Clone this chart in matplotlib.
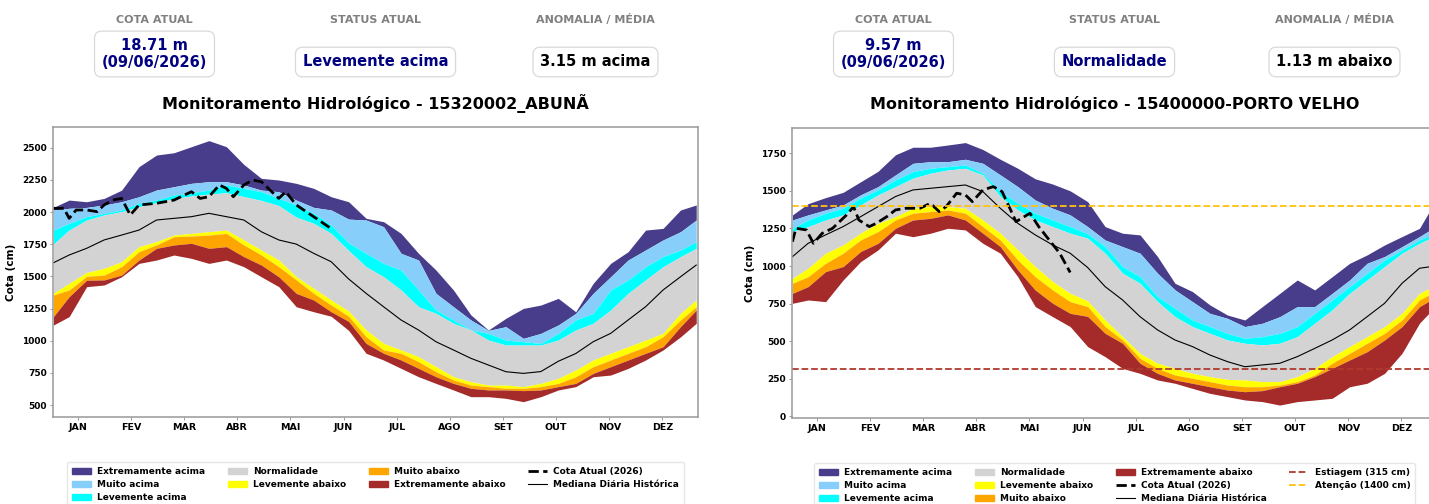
import matplotlib
matplotlib.use("Agg")
import matplotlib.pyplot as plt
from matplotlib.patches import Patch
from matplotlib.lines import Line2D

# dias de amostragem (dia do ano)
days = [1, 10, 20, 30, 40, 50, 60, 70, 80, 90, 100, 110, 120, 130, 140, 150, 160, 170, 180,
        190, 200, 210, 220, 230, 240, 250, 260, 270, 280, 290, 300, 310, 320, 330, 340, 350, 360, 369]

# ---- 15320002_ABUNA (cm) ----
a_max = [2036, 2093, 2080, 2106, 2170, 2353, 2443, 2461, 2508, 2555, 2508, 2370, 2262, 2249, 2223, 2184,
         2119, 2080, 1951, 1925, 1834, 1679, 1549, 1394, 1200, 1083, 1174, 1251, 1277, 1329, 1225, 1446,
         1601, 1692, 1860, 1873, 2016, 2055]
a_q1 = [2016, 2029, 2036, 2055, 2080, 2119, 2171, 2197, 2223, 2236, 2236, 2210, 2171, 2158, 2093, 2036,
        2016, 1945, 1938, 1886, 1679, 1627, 1368, 1264, 1161, 1080, 1109, 1018, 1057, 1122, 1212, 1368,
        1497, 1627, 1705, 1783, 1847, 1938]
a_q2 = [1860, 1912, 1964, 1990, 2016, 2068, 2093, 2132, 2150, 2171, 2210, 2184, 2158, 2106, 2055, 1990,
        1899, 1760, 1679, 1601, 1549, 1394, 1238, 1161, 1083, 1057, 1005, 992, 979, 1057, 1161, 1212,
        1394, 1472, 1575, 1653, 1705, 1770]
a_q3 = [1751, 1860, 1938, 1977, 2003, 2042, 2073, 2105, 2125, 2140, 2150, 2120, 2090, 2050, 1960, 1912,
        1834, 1700, 1575, 1497, 1394, 1264, 1212, 1135, 1083, 1005, 966, 966, 966, 1005, 1083, 1135,
        1238, 1368, 1472, 1575, 1653, 1718]
a_q4 = [1368, 1446, 1530, 1562, 1614, 1731, 1770, 1821, 1834, 1847, 1860, 1783, 1705, 1627, 1497, 1407,
        1316, 1230, 1083, 979, 928, 876, 798, 720, 681, 655, 655, 643, 668, 707, 772, 850, 902, 953,
        1005, 1057, 1212, 1316]
a_q5 = [1355, 1394, 1500, 1510, 1575, 1692, 1744, 1808, 1813, 1821, 1834, 1744, 1666, 1575, 1472, 1368,
        1277, 1190, 1031, 928, 902, 837, 759, 694, 655, 643, 630, 630, 643, 668, 720, 798, 850, 902,
        953, 1031, 1161, 1264]
a_q6 = [1187, 1342, 1470, 1472, 1510, 1627, 1718, 1744, 1757, 1718, 1731, 1653, 1588, 1497, 1368, 1316,
        1225, 1150, 979, 902, 850, 785, 720, 668, 630, 617, 617, 612, 617, 643, 668, 746, 798, 850,
        902, 953, 1109, 1238]
a_min = [1122, 1187, 1420, 1433, 1497, 1601, 1627, 1666, 1640, 1601, 1627, 1575, 1497, 1420, 1264, 1225,
         1190, 1080, 902, 850, 785, 720, 668, 617, 565, 565, 552, 526, 565, 617, 643, 720, 733, 785,
         850, 928, 1030, 1135]
a_med = [1606, 1666, 1718, 1783, 1821, 1860, 1938, 1951, 1964, 1990, 1964, 1938, 1847, 1783, 1751, 1679,
         1614, 1480, 1368, 1264, 1161, 1083, 992, 928, 863, 811, 759, 746, 760, 840, 900, 992, 1057,
         1161, 1264, 1394, 1497, 1588]
a_cur_d = [1, 7, 10, 14, 20, 26, 30, 35, 40, 45, 50, 60, 70, 80, 85, 90, 96, 100, 104, 110, 115, 120,
           125, 130, 134, 140, 150, 160]
a_cur_v = [2029, 2029, 1951, 2016, 2016, 2003, 2055, 2093, 2106, 1977, 2055, 2068, 2093, 2158, 2106,
           2119, 2210, 2184, 2119, 2210, 2249, 2236, 2171, 2106, 2158, 2055, 1964, 1871]

# ---- 15400000-PORTO VELHO (cm) ----
b_max = [1340, 1415, 1455, 1490, 1560, 1630, 1740, 1790, 1790, 1805, 1821, 1775, 1710, 1650, 1580, 1545,
         1500, 1428, 1262, 1218, 1207, 1063, 885, 830, 741, 674, 641, 730, 818, 907, 841, 929, 1018,
         1074, 1140, 1196, 1251, 1430]
b_q1 = [1306, 1340, 1373, 1406, 1473, 1528, 1606, 1683, 1694, 1694, 1710, 1683, 1606, 1528, 1439, 1384,
        1340, 1262, 1173, 1129, 1085, 952, 841, 763, 685, 652, 597, 619, 663, 730, 730, 818, 907, 1018,
        1063, 1129, 1196, 1260]
b_q2 = [1251, 1306, 1351, 1384, 1451, 1506, 1573, 1628, 1650, 1661, 1672, 1617, 1495, 1417, 1351, 1306,
        1262, 1215, 1129, 996, 929, 796, 719, 641, 597, 552, 519, 530, 552, 597, 685, 774, 863, 952,
        1040, 1107, 1173, 1220]
b_q3 = [1229, 1262, 1306, 1340, 1406, 1473, 1528, 1584, 1617, 1639, 1650, 1606, 1462, 1373, 1306, 1262,
        1218, 1185, 1085, 952, 885, 763, 663, 597, 552, 508, 486, 475, 486, 530, 619, 708, 818, 907,
        996, 1085, 1151, 1200]
b_q4 = [918, 985, 1085, 1140, 1218, 1284, 1328, 1384, 1395, 1395, 1384, 1306, 1218, 1107, 996, 896,
        818, 768, 641, 530, 419, 353, 319, 286, 264, 246, 242, 231, 231, 264, 319, 397, 464, 530, 597,
        685, 818, 870]
b_q5 = [885, 929, 1018, 1085, 1173, 1229, 1306, 1351, 1362, 1373, 1351, 1262, 1173, 1040, 929, 840,
        763, 730, 597, 508, 386, 319, 275, 253, 231, 208, 197, 197, 208, 231, 275, 353, 419, 486, 552,
        641, 774, 830]
b_q6 = [818, 863, 963, 996, 1096, 1151, 1251, 1306, 1317, 1340, 1306, 1218, 1129, 974, 840, 752, 685,
        665, 552, 486, 353, 286, 242, 220, 197, 175, 164, 171, 197, 220, 264, 319, 375, 430, 508, 597,
        730, 790]
b_min = [752, 774, 763, 907, 1029, 1107, 1218, 1195, 1218, 1251, 1240, 1151, 1085, 929, 730, 663, 597,
         464, 397, 319, 286, 242, 220, 186, 153, 131, 109, 98, 75, 98, 109, 120, 197, 220, 286, 420,
         620, 730]
b_med = [1062, 1151, 1207, 1262, 1328, 1395, 1462, 1506, 1517, 1528, 1539, 1495, 1384, 1284, 1207, 1140,
         1085, 990, 863, 774, 663, 575, 508, 464, 408, 364, 330, 342, 353, 397, 452, 508, 575, 663, 752,
         885, 985, 1000]
b_cur_d = [1, 3, 9, 13, 18, 24, 32, 36, 39, 45, 49, 55, 60, 66, 74, 80, 85, 89, 95, 100, 104, 110, 116,
           121, 125, 129, 137, 142, 148, 154, 160]
b_cur_v = [1162, 1251, 1240, 1151, 1217, 1251, 1340, 1395, 1306, 1262, 1284, 1328, 1373, 1384, 1384,
           1417, 1362, 1395, 1484, 1473, 1428, 1506, 1528, 1495, 1395, 1295, 1351, 1262, 1173, 1085, 957]
b_estiagem = 315
b_atencao = 1400

meses = ['JAN', 'FEV', 'MAR', 'ABR', 'MAI', 'JUN', 'JUL', 'AGO', 'SET', 'OUT', 'NOV', 'DEZ']
faixas = ['Extremamente acima', 'Muito acima', 'Levemente acima', 'Normalidade',
          'Levemente abaixo', 'Muito abaixo', 'Extremamente abaixo']
cores = ['#483D8B', '#87CEFA', '#00FFFF', '#D3D3D3', '#FFFF00', '#FFA500', '#A52A2A']

W, H = 1429, 504
fig = plt.figure(figsize=(W / 100, H / 100), dpi=100)


def px(x, y):
    return x / W, 1 - y / H


def painel(x0, y0, bounds, med, cur_d, cur_v, ylim, yticks, titulo, cards, extra=False):
    ax = fig.add_axes([x0 / W, 1 - (y0 + 290) / H, 645 / W, 290 / H])
    for i in range(7):
        ax.fill_between(days, bounds[i + 1], bounds[i], color=cores[i], lw=0)
    ax.plot(days, med, color='black', lw=0.8)
    ax.plot(cur_d, cur_v, color='black', lw=2, ls='--')
    if extra:
        ax.axhline(b_estiagem, color='#B03A2E', lw=1.3, ls='--')
        ax.axhline(b_atencao, color='#FFC20E', lw=1.3, ls='--')
    ax.set_xlim(0.75, 370)
    ax.set_ylim(*ylim)
    ax.set_xticks([15 + 30.42 * i for i in range(12)])
    ax.set_xticklabels(meses, fontsize=6.8, fontweight='bold')
    ax.set_yticks(yticks)
    ax.set_yticklabels([str(v) for v in yticks], fontsize=6.5, fontweight='bold')
    ax.tick_params(length=2.5, width=0.6, color='#888888', pad=2)
    ax.set_ylabel('Cota (cm)', fontsize=7.5, fontweight='bold', labelpad=4)
    for s in ax.spines.values():
        s.set_color('#999999')
        s.set_linewidth(1.1)

    cx = x0 + 322.5
    fig.text(*px(cx, 104), titulo, ha='center', va='center', fontsize=11.5, fontweight='bold')
    rot = ['COTA ATUAL', 'STATUS ATUAL', 'ANOMALIA / MÉDIA']
    for k, dx in enumerate([-221, 0, 220]):
        fig.text(*px(cx + dx, 20), rot[k], ha='center', va='center', fontsize=8,
                 fontweight='bold', color='#808080')
        yy = 54 if k == 0 else 62
        fig.text(*px(cx + dx, yy), cards[k], ha='center', va='center', fontsize=10.5,
                 fontweight='bold', color='navy' if k < 2 else 'black', linespacing=1.1,
                 bbox=dict(boxstyle='round,pad=0.5', fc='white', ec='#d9d9d9', lw=0.9))

    handles = [Patch(color=c, label=l) for c, l in zip(cores, faixas)]
    handles.append(Line2D([], [], color='black', lw=2, ls='--', label='Cota Atual (2026)'))
    handles.append(Line2D([], [], color='black', lw=0.8, label='Mediana Diária Histórica'))
    if extra:
        handles.append(Line2D([], [], color='#B03A2E', lw=1.3, ls='--', label='Estiagem (315 cm)'))
        handles.append(Line2D([], [], color='#FFC20E', lw=1.3, ls='--', label='Atenção (1400 cm)'))
    leg = ax.legend(handles=handles, ncol=4, loc='upper center', bbox_to_anchor=(0.5, -0.141),
                    prop={'size': 6.5, 'weight': 'bold'}, labelspacing=0.45, handlelength=2.1,
                    handletextpad=0.7, columnspacing=2.5, frameon=True, borderpad=0.5)
    leg.get_frame().set_edgecolor('#e0e0e0')
    return ax


painel(53, 127, [a_max, a_q1, a_q2, a_q3, a_q4, a_q5, a_q6, a_min], a_med, a_cur_d, a_cur_v,
       (407, 2661), list(range(500, 2501, 250)), 'Monitoramento Hidrológico - 15320002_ABUNÃ',
       ['18.71 m\n(09/06/2026)', 'Levemente acima', '3.15 m acima'])
painel(792, 128, [b_max, b_q1, b_q2, b_q3, b_q4, b_q5, b_q6, b_min], b_med, b_cur_d, b_cur_v,
       (-11, 1918), list(range(0, 1751, 250)), 'Monitoramento Hidrológico - 15400000-PORTO VELHO',
       ['9.57 m\n(09/06/2026)', 'Normalidade', '1.13 m abaixo'], extra=True)

fig.savefig('out.png', dpi=100)
